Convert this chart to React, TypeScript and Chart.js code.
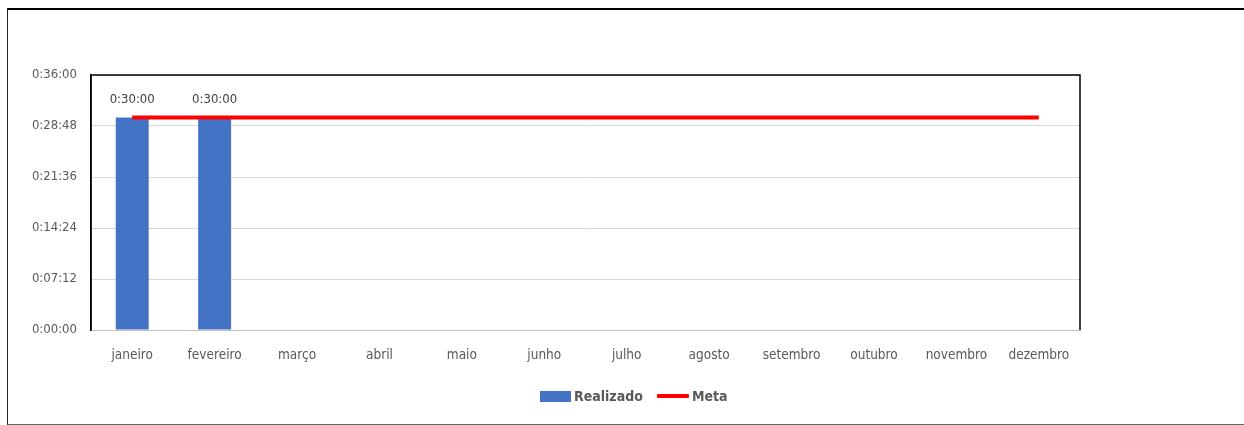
import React, { useEffect, useRef } from "react";
import { Chart, registerables } from "chart.js";

Chart.register(...registerables);

const categories = ["janeiro", "fevereiro", "março", "abril", "maio", "junho", "julho", "agosto", "setembro", "outubro", "novembro", "dezembro"];
// values in seconds
const realizado: (number | null)[] = [1800, 1800, null, null, null, null, null, null, null, null, null, null];
const meta: number[] = [1800, 1800, 1800, 1800, 1800, 1800, 1800, 1800, 1800, 1800, 1800, 1800];
const yMax = 2160;
const yStep = 432;

const FONT = "'Liberation Sans Narrow', 'DejaVu Sans Condensed', 'Liberation Sans', sans-serif";
const TEXT = "#595959";
const BAR_COLOR = "#4472C4";
const META_COLOR = "#FF0000";

function fmt(v: number): string {
  const s = Math.round(v);
  const h = Math.floor(s / 3600);
  const m = Math.floor((s % 3600) / 60);
  const sec = s % 60;
  return `${h}:${String(m).padStart(2, "0")}:${String(sec).padStart(2, "0")}`;
}

const labelPlugin = {
  id: "barLabels",
  afterDatasetsDraw(chart: any) {
    const ctx = chart.ctx;
    const meta0 = chart.getDatasetMeta(0);
    ctx.save();
    ctx.font = `13px ${FONT}`;
    ctx.fillStyle = "#404040";
    ctx.textAlign = "center";
    ctx.textBaseline = "middle";
    meta0.data.forEach((el: any, i: number) => {
      const v = realizado[i];
      if (v == null) return;
      ctx.fillText(fmt(v), el.x, el.y - 18);
    });
    ctx.restore();
  },
};

const borderPlugin = {
  id: "areaBorder",
  afterDraw(chart: any) {
    const { ctx, chartArea } = chart;
    ctx.save();
    ctx.strokeStyle = "#000";
    ctx.lineWidth = 1.5;
    ctx.beginPath();
    ctx.moveTo(chartArea.left, chartArea.bottom);
    ctx.lineTo(chartArea.left, chartArea.top);
    ctx.lineTo(chartArea.right, chartArea.top);
    ctx.lineTo(chartArea.right, chartArea.bottom);
    ctx.stroke();
    ctx.restore();
  },
};

export default function App() {
  const ref = useRef<HTMLCanvasElement>(null);
  useEffect(() => {
    if (!ref.current) return;
    const chart = new Chart(ref.current, {
      type: "bar",
      data: {
        labels: categories,
        datasets: [
          {
            type: "bar",
            label: "Realizado",
            data: realizado,
            backgroundColor: BAR_COLOR,
            borderWidth: 0,
            barPercentage: 0.4,
            categoryPercentage: 1,
            order: 2,
          } as any,
          {
            type: "line",
            label: "Meta",
            data: meta,
            borderColor: META_COLOR,
            backgroundColor: META_COLOR,
            borderWidth: 4,
            pointRadius: 0,
            fill: false,
            order: 1,
          } as any,
        ],
      },
      options: {
        animation: false,
        responsive: false,
        maintainAspectRatio: false,
        layout: { padding: { left: 0, right: 164, top: 75, bottom: 49 } },
        plugins: {
          legend: { display: false },
          tooltip: { enabled: false },
        },
        scales: {
          x: {
            grid: { display: false, drawTicks: false },
            border: { color: "#bfbfbf", width: 1 },
            ticks: { color: TEXT, font: { family: FONT, size: 13.5 }, padding: 17 },
            afterFit: (s: any) => { s.height = 46; },
          },
          y: {
            min: 0,
            max: yMax,
            ticks: {
              stepSize: yStep,
              color: TEXT,
              font: { family: FONT, size: 13 },
              padding: 14,
              callback: (v: any) => fmt(Number(v)),
            },
            grid: { color: "#d9d9d9", drawTicks: false },
            border: { color: "#000", width: 1.5 },
            afterFit: (s: any) => { s.width = 91; },
          },
        },
      },
      plugins: [labelPlugin, borderPlugin],
    });
    return () => chart.destroy();
  }, []);
  const legendText: React.CSSProperties = {
    position: "absolute",
    top: 386,
    fontFamily: FONT,
    fontWeight: "bold",
    fontSize: 14,
    lineHeight: "20px",
    color: TEXT,
    whiteSpace: "nowrap",
  };
  return (
    <div style={{ position: "absolute", left: 0, top: 0, width: 1244, height: 425, background: "#fff" }}>
      <div
        style={{
          position: "absolute",
          left: 7,
          top: 8,
          width: 1237,
          height: 417,
          boxSizing: "border-box",
          borderTop: "2px solid #000",
          borderLeft: "1px solid #222",
          borderBottom: "1px solid #666",
        }}
      />
      <canvas ref={ref} width={1244} height={425} style={{ position: "absolute", left: 0, top: 0, width: 1244, height: 425 }} />
      <div style={{ position: "absolute", left: 540, top: 391, width: 31, height: 11, background: BAR_COLOR }} />
      <div style={{ ...legendText, left: 574 }}>Realizado</div>
      <div style={{ position: "absolute", left: 657, top: 394, width: 32, height: 4, background: META_COLOR, borderRadius: 1 }} />
      <div style={{ ...legendText, left: 692 }}>Meta</div>
    </div>
  );
}
